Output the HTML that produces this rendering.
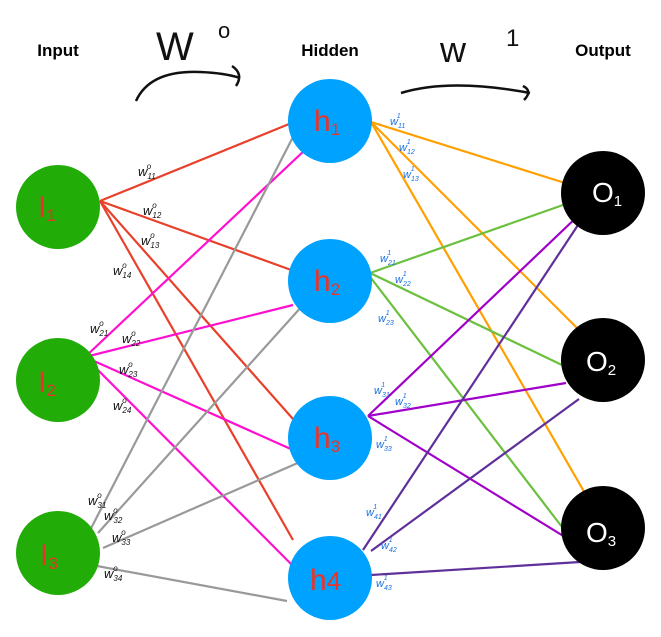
<!DOCTYPE html>
<html><head><meta charset="utf-8"><style>
html,body{margin:0;padding:0;background:#fff;}
svg{display:block;font-family:"Liberation Sans",sans-serif;}
.b{font-size:13px;font-style:italic;fill:#111;}
.bl{font-size:11px;font-style:italic;fill:#1a6fe0;}
.n{font-size:30px;fill:#e8342a;font-family:"Liberation Sans",sans-serif;}
.o{font-size:28px;fill:#fff;font-family:"Liberation Sans",sans-serif;}
</style></head><body>
<svg width="661" height="637" viewBox="0 0 661 637" xmlns="http://www.w3.org/2000/svg">
<rect width="661" height="637" fill="#fff"/>
<text x="58" y="56" font-size="17" font-weight="bold" text-anchor="middle">Input</text>
<text x="330" y="56" font-size="17" font-weight="bold" text-anchor="middle">Hidden</text>
<text x="603" y="56" font-size="17" font-weight="bold" text-anchor="middle">Output</text>
<text x="156" y="60" font-size="40" fill="#111">W</text>
<text x="218" y="38" font-size="22" fill="#111">o</text>
<path d="M136 101 Q150 70 200 72 Q225 73 240 78" fill="none" stroke="#111" stroke-width="2.5"/>
<path d="M232 66 Q244 74 236 86" fill="none" stroke="#111" stroke-width="2.5"/>
<text x="440" y="62" font-size="36" fill="#111">w</text>
<text x="506" y="46" font-size="24" fill="#111">1</text>
<path d="M401 93 Q450 78 530 93" fill="none" stroke="#111" stroke-width="2.5"/>
<path d="M523 86 Q533 91 524 100" fill="none" stroke="#111" stroke-width="2.5"/>
<g stroke-width="2.2" fill="none">
<g stroke="#e8402a">
<line x1="100" y1="201" x2="294" y2="122"/><line x1="100" y1="201" x2="294" y2="271"/>
<line x1="100" y1="201" x2="293" y2="419"/><line x1="100" y1="201" x2="293" y2="540"/></g>
<g stroke="#ff10d0">
<line x1="85" y1="357" x2="306" y2="149"/><line x1="85" y1="357" x2="293" y2="305"/>
<line x1="85" y1="357" x2="293" y2="450"/><line x1="85" y1="357" x2="293" y2="566"/></g>
<g stroke="#999">
<line x1="85" y1="540" x2="293" y2="137"/><line x1="98" y1="533" x2="303" y2="305"/>
<line x1="103" y1="548" x2="300" y2="462"/><line x1="97" y1="566" x2="287" y2="601"/></g>
<g stroke="#ffa000">
<line x1="371" y1="122" x2="565" y2="183"/><line x1="371" y1="122" x2="580" y2="331"/><line x1="371" y1="122" x2="586" y2="495"/></g>
<g stroke="#6cc040">
<line x1="370" y1="273" x2="563" y2="205"/><line x1="370" y1="273" x2="562" y2="365"/><line x1="371" y1="278" x2="562" y2="527"/></g>
<g stroke="#a000c8">
<line x1="368" y1="416" x2="580" y2="214"/><line x1="368" y1="416" x2="566" y2="383"/><line x1="368" y1="416" x2="565" y2="537"/></g>
<g stroke="#60309a">
<line x1="363" y1="550" x2="580" y2="222"/><line x1="371" y1="551" x2="579" y2="399"/><line x1="371" y1="575" x2="580" y2="562"/></g>
</g>
<g fill="#22ac08"><circle cx="58" cy="207" r="42"/><circle cx="58" cy="380" r="42"/><circle cx="58" cy="553" r="42"/></g>
<g fill="#00a2ff"><circle cx="330" cy="121" r="42"/><circle cx="330" cy="281" r="42"/><circle cx="330" cy="438" r="42"/><circle cx="330" cy="578" r="42"/></g>
<g fill="#000"><circle cx="603" cy="193" r="42"/><circle cx="603" cy="360" r="42"/><circle cx="603" cy="528" r="42"/></g>
<text class="n" x="38" y="217">I<tspan font-size="17" dy="4">1</tspan></text>
<text class="n" x="38" y="392">I<tspan font-size="17" dy="4">2</tspan></text>
<text class="n" x="40" y="565">I<tspan font-size="17" dy="4">3</tspan></text>
<text class="n" x="314" y="131">h<tspan font-size="17" dy="4">1</tspan></text>
<text class="n" x="314" y="291">h<tspan font-size="17" dy="4">2</tspan></text>
<text class="n" x="314" y="448">h<tspan font-size="17" dy="4">3</tspan></text>
<text class="n" x="310" y="590">h<tspan font-size="26">4</tspan></text>
<text class="o" x="592" y="202">O<tspan font-size="15" dy="4">1</tspan></text>
<text class="o" x="586" y="371">O<tspan font-size="15" dy="4">2</tspan></text>
<text class="o" x="586" y="542">O<tspan font-size="15" dy="4">3</tspan></text>
<g class="b">
<text x="138" y="176">w<tspan font-size="8" dy="3">11</tspan><tspan font-size="8" dx="-9" dy="-10">o</tspan></text>
<text x="143" y="215">w<tspan font-size="8" dy="3">12</tspan><tspan font-size="8" dx="-9" dy="-10">o</tspan></text>
<text x="141" y="245">w<tspan font-size="8" dy="3">13</tspan><tspan font-size="8" dx="-9" dy="-10">o</tspan></text>
<text x="113" y="275">w<tspan font-size="8" dy="3">14</tspan><tspan font-size="8" dx="-9" dy="-10">o</tspan></text>
<text x="90" y="333">w<tspan font-size="8" dy="3">21</tspan><tspan font-size="8" dx="-9" dy="-10">o</tspan></text>
<text x="122" y="343">w<tspan font-size="8" dy="3">22</tspan><tspan font-size="8" dx="-9" dy="-10">o</tspan></text>
<text x="119" y="374">w<tspan font-size="8" dy="3">23</tspan><tspan font-size="8" dx="-9" dy="-10">o</tspan></text>
<text x="113" y="410">w<tspan font-size="8" dy="3">24</tspan><tspan font-size="8" dx="-9" dy="-10">o</tspan></text>
<text x="88" y="505">w<tspan font-size="8" dy="3">31</tspan><tspan font-size="8" dx="-9" dy="-10">o</tspan></text>
<text x="104" y="520">w<tspan font-size="8" dy="3">32</tspan><tspan font-size="8" dx="-9" dy="-10">o</tspan></text>
<text x="112" y="542">w<tspan font-size="8" dy="3">33</tspan><tspan font-size="8" dx="-9" dy="-10">o</tspan></text>
<text x="104" y="578">w<tspan font-size="8" dy="3">34</tspan><tspan font-size="8" dx="-9" dy="-10">o</tspan></text>
</g>
<g class="bl">
<text x="390" y="125">w<tspan font-size="7" dy="3">11</tspan><tspan font-size="7" dx="-8" dy="-10">1</tspan></text>
<text x="399" y="151">w<tspan font-size="7" dy="3">12</tspan><tspan font-size="7" dx="-8" dy="-10">1</tspan></text>
<text x="403" y="178">w<tspan font-size="7" dy="3">13</tspan><tspan font-size="7" dx="-8" dy="-10">1</tspan></text>
<text x="380" y="262">w<tspan font-size="7" dy="3">21</tspan><tspan font-size="7" dx="-8" dy="-10">1</tspan></text>
<text x="395" y="283">w<tspan font-size="7" dy="3">22</tspan><tspan font-size="7" dx="-8" dy="-10">1</tspan></text>
<text x="378" y="322">w<tspan font-size="7" dy="3">23</tspan><tspan font-size="7" dx="-8" dy="-10">1</tspan></text>
<text x="374" y="394">w<tspan font-size="7" dy="3">31</tspan><tspan font-size="7" dx="-8" dy="-10">1</tspan></text>
<text x="395" y="405">w<tspan font-size="7" dy="3">32</tspan><tspan font-size="7" dx="-8" dy="-10">1</tspan></text>
<text x="376" y="448">w<tspan font-size="7" dy="3">33</tspan><tspan font-size="7" dx="-8" dy="-10">1</tspan></text>
<text x="366" y="516">w<tspan font-size="7" dy="3">41</tspan><tspan font-size="7" dx="-8" dy="-10">1</tspan></text>
<text x="381" y="549">w<tspan font-size="7" dy="3">42</tspan><tspan font-size="7" dx="-8" dy="-10">1</tspan></text>
<text x="376" y="587">w<tspan font-size="7" dy="3">43</tspan><tspan font-size="7" dx="-8" dy="-10">1</tspan></text>
</g>
</svg>
</body></html>
